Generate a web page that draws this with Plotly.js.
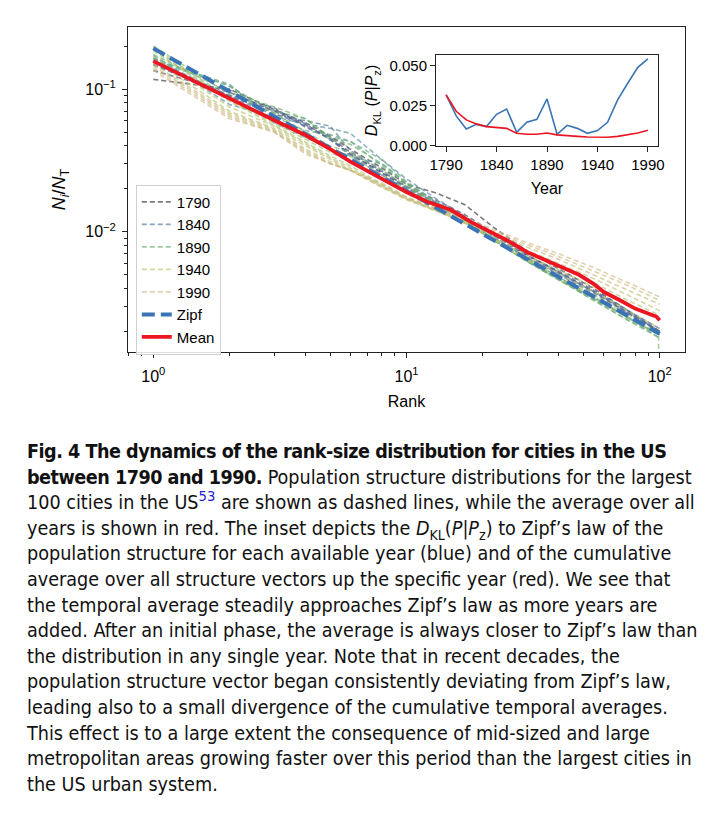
<!DOCTYPE html>
<html>
<head>
<meta charset="utf-8">
<script src="https://cdn.plot.ly/plotly-3.0.1.min.js"></script>
<style>
  html, body { margin: 0; padding: 0; background: #fff; width: 718px; height: 829px; overflow: hidden; }
  #chart { position: absolute; left: 0; top: 0; width: 718px; height: 430px; }
  #caption { position: absolute; left: 27px; top: 439px; font-family: "DejaVu Sans Condensed", "Liberation Sans Narrow", "Roboto", sans-serif; font-stretch: condensed; font-size: 19.6px; line-height: 25.6px; color: #111; }
  #caption .ln { white-space: nowrap; }
  #caption b { letter-spacing: -0.5px; }
  #caption sup.ref { color: #2020d0; font-size: 0.75em; line-height: 0; }
  #caption sub { font-size: 0.72em; line-height: 0; }
</style>
</head>
<body>
<div id="chart"></div>
<div id="caption">
  <div class="ln"><b>Fig. 4 The dynamics of the rank-size distribution for cities in the US</b></div>
  <div class="ln"><b>between 1790 and 1990.</b> Population structure distributions for the largest</div>
  <div class="ln">100 cities in the US<sup class="ref">53</sup> are shown as dashed lines, while the average over all</div>
  <div class="ln">years is shown in red. The inset depicts the <i>D</i><sub>KL</sub>(<i>P</i>|<i>P</i><sub>z</sub>) to Zipf’s law of the</div>
  <div class="ln">population structure for each available year (blue) and of the cumulative</div>
  <div class="ln">average over all structure vectors up the specific year (red). We see that</div>
  <div class="ln">the temporal average steadily approaches Zipf’s law as more years are</div>
  <div class="ln">added. After an initial phase, the average is always closer to Zipf’s law than</div>
  <div class="ln">the distribution in any single year. Note that in recent decades, the</div>
  <div class="ln">population structure vector began consistently deviating from Zipf’s law,</div>
  <div class="ln">leading also to a small divergence of the cumulative temporal averages.</div>
  <div class="ln">This effect is to a large extent the consequence of mid-sized and large</div>
  <div class="ln">metropolitan areas growing faster over this period than the largest cities in</div>
  <div class="ln">the US urban system.</div>
</div>
<script>
// ---------- data ----------
const rank = [1, 2, 3, 4, 5, 6, 8, 10, 13, 17, 22, 30, 40, 55, 75, 99, 100];
const years = [1790, 1800, 1810, 1820, 1830, 1840, 1850, 1860, 1870, 1880, 1890, 1900, 1910, 1920, 1930, 1940, 1950, 1960, 1970, 1980, 1990];
const legendYears = [1790, 1840, 1890, 1940, 1990];

const share1790 = [0.117, 0.100, 0.072, 0.058, 0.047, 0.038, 0.028, 0.0215, 0.0188, 0.0155, 0.0108, 0.0073, 0.0055, 0.0040, 0.0028, 0.00205, 0.0020];
const share1800 = [0.135, 0.095, 0.070, 0.056, 0.046, 0.036, 0.0265, 0.0208, 0.0168, 0.0132, 0.0099, 0.0069, 0.0052, 0.0038, 0.0027, 0.00203, 0.0020];
const share1810 = [0.148, 0.090, 0.074, 0.054, 0.045, 0.035, 0.026, 0.0205, 0.0162, 0.0128, 0.0096, 0.0068, 0.0052, 0.0038, 0.0027, 0.00204, 0.0020];
const share1820 = [0.150, 0.088, 0.071, 0.057, 0.044, 0.035, 0.0258, 0.0200, 0.0158, 0.0127, 0.0096, 0.0068, 0.0053, 0.0039, 0.0028, 0.00213, 0.0021];
const share1830 = [0.158, 0.090, 0.068, 0.055, 0.045, 0.034, 0.0250, 0.0196, 0.0156, 0.0125, 0.0094, 0.0066, 0.0051, 0.0038, 0.0028, 0.00203, 0.0020];
const share1840 = [0.165, 0.088, 0.066, 0.060, 0.055, 0.037, 0.0270, 0.0205, 0.0160, 0.0124, 0.0092, 0.0065, 0.0050, 0.0037, 0.0027, 0.00202, 0.0020];
const share1850 = [0.172, 0.078, 0.064, 0.057, 0.053, 0.049, 0.0320, 0.0235, 0.0172, 0.0128, 0.0093, 0.0065, 0.0048, 0.0035, 0.0025, 0.00192, 0.0019];
const share1860 = [0.162, 0.108, 0.058, 0.046, 0.038, 0.034, 0.0300, 0.0220, 0.0165, 0.0121, 0.0088, 0.0062, 0.0047, 0.0034, 0.0025, 0.00192, 0.0019];
const share1870 = [0.158, 0.106, 0.064, 0.051, 0.048, 0.043, 0.0320, 0.0225, 0.0163, 0.0122, 0.0089, 0.0063, 0.0047, 0.0034, 0.0025, 0.00182, 0.0018];
const share1880 = [0.165, 0.104, 0.070, 0.062, 0.046, 0.043, 0.0290, 0.0215, 0.0158, 0.0120, 0.0088, 0.0062, 0.0046, 0.0033, 0.0024, 0.00182, 0.0018];
const share1890 = [0.175, 0.095, 0.075, 0.062, 0.044, 0.041, 0.0300, 0.0220, 0.0158, 0.0119, 0.0088, 0.0062, 0.0046, 0.0033, 0.0024, 0.00191, 0.0019];
const share1900 = [0.200, 0.092, 0.068, 0.050, 0.040, 0.036, 0.0270, 0.0210, 0.0155, 0.0118, 0.0087, 0.0062, 0.0046, 0.0034, 0.0025, 0.0019, 0.00005];
const share1910 = [0.195, 0.086, 0.062, 0.046, 0.038, 0.034, 0.0250, 0.0200, 0.0152, 0.0117, 0.0088, 0.0063, 0.0047, 0.0035, 0.0025, 0.00192, 0.0019];
const share1920 = [0.190, 0.083, 0.058, 0.044, 0.036, 0.031, 0.0230, 0.0185, 0.0148, 0.0116, 0.0088, 0.0064, 0.0048, 0.0036, 0.0026, 0.00197, 0.00195];
const share1930 = [0.185, 0.082, 0.056, 0.042, 0.034, 0.029, 0.0215, 0.0175, 0.0144, 0.0115, 0.0089, 0.0066, 0.0051, 0.0038, 0.0028, 0.00212, 0.0021];
const share1940 = [0.170, 0.075, 0.055, 0.041, 0.033, 0.028, 0.0210, 0.0172, 0.0142, 0.0115, 0.0090, 0.0068, 0.0054, 0.0041, 0.0031, 0.00243, 0.0024];
const share1950 = [0.160, 0.070, 0.053, 0.040, 0.032, 0.027, 0.0205, 0.0170, 0.0141, 0.0116, 0.0092, 0.0071, 0.0057, 0.0044, 0.0033, 0.00263, 0.0026];
const share1960 = [0.150, 0.068, 0.052, 0.038, 0.031, 0.027, 0.0205, 0.0168, 0.0140, 0.0118, 0.0095, 0.0074, 0.0060, 0.0047, 0.0036, 0.00283, 0.0028];
const share1970 = [0.145, 0.066, 0.051, 0.037, 0.030, 0.027, 0.0210, 0.0170, 0.0142, 0.0120, 0.0098, 0.0078, 0.0064, 0.0050, 0.0039, 0.00313, 0.0031];
const share1980 = [0.140, 0.064, 0.050, 0.036, 0.030, 0.027, 0.0215, 0.0172, 0.0145, 0.0123, 0.0101, 0.0081, 0.0067, 0.0053, 0.0042, 0.00333, 0.0033];
const share1990 = [0.135, 0.062, 0.050, 0.035, 0.030, 0.027, 0.0220, 0.0175, 0.0148, 0.0126, 0.0104, 0.0084, 0.0070, 0.0056, 0.0044, 0.00354, 0.0035];

const meanRank = [1, 2, 3, 4, 5, 6, 7, 8, 9, 10, 12, 15, 18, 20, 25, 30, 35, 40, 48, 55, 60, 70, 80, 90, 97, 100];
const meanShare = [0.157, 0.0855, 0.0605, 0.0475, 0.038, 0.031, 0.0265, 0.0235, 0.021, 0.019, 0.0163, 0.0142, 0.0117, 0.0106, 0.0087, 0.0072, 0.0064, 0.0058, 0.0050, 0.0043, 0.0038, 0.0033, 0.0029, 0.00268, 0.00255, 0.0024];

const zipfRank = [1, 100];
const zipfShare = [0.193, 0.00193];

const dklYear = [0.0319, 0.0188, 0.0106, 0.0135, 0.0121, 0.0198, 0.0231, 0.0085, 0.0148, 0.0167, 0.0294, 0.0073, 0.0129, 0.0110, 0.0079, 0.0096, 0.0148, 0.0288, 0.0392, 0.0492, 0.0544];
const dklMean = [0.0319, 0.0217, 0.0163, 0.0138, 0.0121, 0.0117, 0.0110, 0.0079, 0.0073, 0.0073, 0.0081, 0.0069, 0.0063, 0.0060, 0.0056, 0.0054, 0.0054, 0.0060, 0.0069, 0.0081, 0.0098];

// ---------- styles ----------
const shares = [share1790, share1800, share1810, share1820, share1830, share1840, share1850, share1860, share1870, share1880, share1890, share1900, share1910, share1920, share1930, share1940, share1950, share1960, share1970, share1980, share1990];
const yearColors = ['#3c3c3c', '#474a6a', '#4a4f85', '#4c5e96', '#516e9c', '#577b9d', '#5a8a9e', '#5f9a98', '#64a68a', '#69ad7c', '#6eb16e', '#82b86c', '#95bd6c', '#a5c16e', '#aec370', '#b7c571', '#bec177', '#c5bf7c', '#cabd82', '#cfbc86', '#d2bb89'];

function rgba(hex, a) {
  const n = parseInt(hex.slice(1), 16);
  return 'rgba(' + ((n >> 16) & 255) + ',' + ((n >> 8) & 255) + ',' + (n & 255) + ',' + a + ')';
}

const FONT = 'Liberation Sans, Arial, sans-serif';
const traces = [];
years.forEach((yr, i) => {
  traces.push({
    x: rank, y: shares[i], type: 'scatter', mode: 'lines',
    name: String(yr), showlegend: legendYears.includes(yr),
    line: { color: rgba(yearColors[i], 0.68), width: 1.6, dash: '5px,3px' },
    hoverinfo: 'skip', xaxis: 'x', yaxis: 'y'
  });
});
traces.push({
  x: zipfRank, y: zipfShare, type: 'scatter', mode: 'lines', name: 'Zipf',
  line: { color: '#3b74b6', width: 4, dash: '13px,6px' }, xaxis: 'x', yaxis: 'y'
});
traces.push({
  x: meanRank, y: meanShare, type: 'scatter', mode: 'lines', name: 'Mean',
  line: { color: '#ec1522', width: 3.8 }, xaxis: 'x', yaxis: 'y'
});
traces.push({
  x: years, y: dklYear, type: 'scatter', mode: 'lines', showlegend: false,
  line: { color: '#3b74b2', width: 1.6 }, xaxis: 'x2', yaxis: 'y2'
});
traces.push({
  x: years, y: dklMean, type: 'scatter', mode: 'lines', showlegend: false,
  line: { color: '#ec1522', width: 1.6 }, xaxis: 'x2', yaxis: 'y2'
});

const xMinor = [0.8, 0.9, 2, 3, 4, 5, 6, 7, 8, 9, 20, 30, 40, 50, 60, 70, 80, 90, 200];
const yMinor = [0.002, 0.003, 0.004, 0.005, 0.006, 0.007, 0.008, 0.009, 0.02, 0.03, 0.04, 0.05, 0.06, 0.07, 0.08, 0.09, 0.2, 0.3];

const axisCommon = {
  showline: true, linecolor: '#222', linewidth: 1, mirror: true,
  ticks: 'outside', ticklen: 5, tickwidth: 1, tickcolor: '#222',
  showgrid: false, zeroline: false,
  tickfont: { family: FONT, size: 16, color: '#000' }
};

const layout = {
  width: 718, height: 430,
  margin: { l: 128, r: 33, t: 27, b: 78 },
  paper_bgcolor: '#fff', plot_bgcolor: 'rgba(0,0,0,0)',
  font: { family: FONT, color: '#000' },
  showlegend: true,
  xaxis: Object.assign({}, axisCommon, {
    type: 'log', range: [-0.1, 2.1],
    tickvals: [1, 10, 100], ticktext: ['10<sup>0</sup>', '10<sup>1</sup>', '10<sup>2</sup>'],
    minor: { tickvals: xMinor, ticks: 'outside', ticklen: 3, tickcolor: '#222', showgrid: false },
    ticklabelstandoff: 5,
    title: { text: 'Rank', font: { family: FONT, size: 16 }, standoff: 11 },
    domain: [0, 1], anchor: 'y'
  }),
  yaxis: Object.assign({}, axisCommon, {
    type: 'log', range: [-2.842, -0.565],
    tickvals: [0.01, 0.1], ticktext: ['10<sup>−2</sup>', '10<sup>−1</sup>'],
    minor: { tickvals: yMinor, ticks: 'outside', ticklen: 3, tickcolor: '#222', showgrid: false },
    ticklabelstandoff: 3,
    title: { text: '<i>N</i><sub><i>i</i></sub>/<i>N</i><sub>T</sub>', font: { family: FONT, size: 18 }, standoff: 14 },
    domain: [0, 1], anchor: 'x'
  }),
  xaxis2: Object.assign({}, axisCommon, {
    range: [1780, 2000], tickvals: [1790, 1840, 1890, 1940, 1990],
    ticktext: ['1790', '1840', '1890', '1940', '1990'],
    tickfont: { family: FONT, size: 15, color: '#000' },
    title: { text: 'Year', font: { family: FONT, size: 16 }, standoff: 10 },
    domain: [0.553, 0.9515], anchor: 'y2'
  }),
  yaxis2: Object.assign({}, axisCommon, {
    range: [0, 0.0569], tickvals: [0, 0.025, 0.05], ticktext: ['0.000', '0.025', '0.050'],
    tickfont: { family: FONT, size: 15, color: '#000' },
    title: { text: '<i>D</i><sub>KL</sub> (<i>P</i>|<i>P</i><sub>z</sub>)', font: { family: FONT, size: 16 }, standoff: 7 },
    domain: [0.634, 0.914], anchor: 'x2'
  }),
  legend: {
    x: 0.014, y: 0.515, xanchor: 'left', yanchor: 'top',
    bgcolor: 'rgba(255,255,255,0.85)', bordercolor: '#d0d0d0', borderwidth: 1,
    font: { family: FONT, size: 15, color: '#000' },
    tracegroupgap: 0, itemwidth: 30
  }
};

Plotly.newPlot('chart', traces, layout, { displayModeBar: false, staticPlot: true });
</script>
</body>
</html>
